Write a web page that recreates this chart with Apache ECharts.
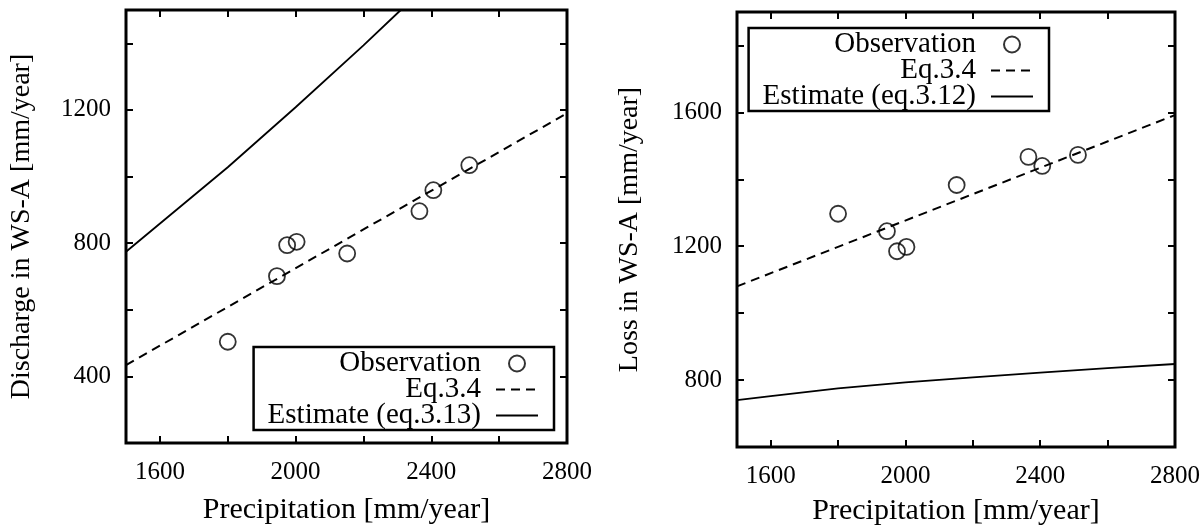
<!DOCTYPE html>
<html>
<head>
<meta charset="utf-8">
<script src="https://cdn.jsdelivr.net/npm/echarts@6/dist/echarts.min.js"></script>
<style>
html,body{margin:0;padding:0;background:#fff;}
#chart{width:1203px;height:531px;}
</style>
</head>
<body>
<div id="chart"></div>
<script>
// ---- data ----
const precipitation = [1800, 1945, 1975, 2003, 2152, 2365, 2406, 2512];
const discharge = [504, 701, 794, 804, 769, 896, 959, 1034];
const loss = [1297, 1245, 1185, 1198, 1383, 1467, 1440, 1473];

const eqP = [1500, 2800];
const dischargeEq = [434, 1190];
const lossEq = [1080, 1592];

const dischargeEstP = [1500, 1800, 2000, 2200, 2310];
const dischargeEst = [774, 1028, 1208, 1394, 1500];
const lossEstP = [1500, 1600, 1800, 2000, 2200, 2400, 2600, 2800];
const lossEst = [740, 752, 775, 793, 808, 822, 836, 848];

const xTicks = [1600, 1800, 2000, 2200, 2400, 2600, 2800];
const xLabels = [1600, 2000, 2400, 2800];
const dischargeTicks = [400, 600, 800, 1000, 1200, 1400];
const dischargeLabels = [400, 800, 1200];
const lossTicks = [800, 1000, 1200, 1400, 1600, 1800];
const lossLabels = [800, 1200, 1600];

const xTitle = 'Precipitation [mm/year]';
const yTitleLeft = 'Discharge in WS-A [mm/year]';
const yTitleRight = 'Loss in WS-A [mm/year]';
const names = {
  obs: 'Observation',
  eq: 'Eq.3.4',
  estL: 'Estimate (eq.3.13)',
  estR: 'Estimate (eq.3.12)'
};

// ---- helpers ----
const zip = (a, b) => a.map((v, i) => [v, b[i]]);
const plain = v => String(v);
const tickFont = {fontFamily: 'Liberation Serif', fontSize: 25, color: '#000'};
const xNameFont = {fontFamily: 'Liberation Serif', fontSize: 30, color: '#000'};
const yNameFont = {fontFamily: 'Liberation Serif', fontSize: 28, color: '#000'};

function xAxes(grid, nameGap) {
  const base = {
    type: 'value', gridIndex: grid, min: 1500, max: 2800,
    splitLine: {show: false}, axisLine: {show: false}
  };
  return [
    Object.assign({}, base, {
      position: 'bottom',
      name: xTitle, nameLocation: 'middle', nameGap: nameGap, nameTextStyle: xNameFont,
      axisTick: {show: true, inside: true, length: 7, lineStyle: {color: '#000', width: 2}, customValues: xTicks},
      axisLabel: Object.assign({margin: 17, customValues: xLabels, formatter: plain}, tickFont)
    }),
    Object.assign({}, base, {
      position: 'top',
      axisTick: {show: true, inside: true, length: 7, lineStyle: {color: '#000', width: 2}, customValues: xTicks},
      axisLabel: {show: false}
    })
  ];
}
function yAxes(grid, min, max, ticks, labels, title, nameGap) {
  const base = {
    type: 'value', gridIndex: grid, min: min, max: max,
    splitLine: {show: false}, axisLine: {show: false}
  };
  return [
    Object.assign({}, base, {
      position: 'left',
      name: title, nameLocation: 'middle', nameGap: nameGap, nameTextStyle: yNameFont,
      axisTick: {show: true, inside: true, length: 7, lineStyle: {color: '#000', width: 2}, customValues: ticks},
      axisLabel: Object.assign({margin: 15, customValues: labels, formatter: plain}, tickFont)
    }),
    Object.assign({}, base, {
      position: 'right',
      axisTick: {show: true, inside: true, length: 7, lineStyle: {color: '#000', width: 2}, customValues: ticks},
      axisLabel: {show: false}
    })
  ];
}

const scatterStyle = {color: 'rgba(0,0,0,0)', borderColor: '#000', borderWidth: 1.8};
const lineItem = {color: 'rgba(0,0,0,0)', borderWidth: 0};
const dashStyle = {color: '#000', width: 2, type: [9, 6]};
const solidStyle = {color: '#000', width: 1.8, type: 'solid'};

function legendFor(items, right, top) {
  return {
    data: items, orient: 'vertical', align: 'right', right: right, top: top,
    itemWidth: 42, itemHeight: 16, itemGap: -3,
    padding: [2, 15, 0, 14],
    borderColor: '#000', borderWidth: 2.5, backgroundColor: '#fff',
    selectedMode: false,
    textStyle: {fontFamily: 'Liberation Serif', fontSize: 29, color: '#000', padding: [0, 10, 0, 0]},
    inactiveColor: '#000'
  };
}

const option = {
  animation: false,
  backgroundColor: '#fff',
  grid: [
    {left: 126, right: 636, top: 10, bottom: 88, show: true, borderColor: '#000', borderWidth: 3},
    {left: 737, right: 28, top: 12, bottom: 84, show: true, borderColor: '#000', borderWidth: 3}
  ],
  xAxis: [].concat(xAxes(0, 52), xAxes(1, 49)),
  yAxis: [].concat(
    yAxes(0, 200, 1500, dischargeTicks, dischargeLabels, yTitleLeft, 90),
    yAxes(1, 600, 1900, lossTicks, lossLabels, yTitleRight, 93)
  ),
  legend: [
    legendFor([names.obs, names.eq, names.estL], 649, 347),
    legendFor([names.obs, names.eq, names.estR], 154, 28)
  ],
  series: [
    {name: names.eq, type: 'line', xAxisIndex: 0, yAxisIndex: 0, data: zip(eqP, dischargeEq),
      symbol: 'none', lineStyle: dashStyle, itemStyle: lineItem, z: 2},
    {name: names.estL, type: 'line', xAxisIndex: 0, yAxisIndex: 0, data: zip(dischargeEstP, dischargeEst),
      symbol: 'none', lineStyle: solidStyle, itemStyle: lineItem, z: 2},
    {name: names.obs, type: 'scatter', xAxisIndex: 0, yAxisIndex: 0, data: zip(precipitation, discharge),
      symbol: 'circle', symbolSize: 16, itemStyle: scatterStyle, z: 3},
    {name: names.eq, type: 'line', xAxisIndex: 2, yAxisIndex: 2, data: zip(eqP, lossEq),
      symbol: 'none', lineStyle: dashStyle, itemStyle: lineItem, z: 2},
    {name: names.estR, type: 'line', xAxisIndex: 2, yAxisIndex: 2, data: zip(lossEstP, lossEst),
      symbol: 'none', lineStyle: solidStyle, itemStyle: lineItem, z: 2},
    {name: names.obs, type: 'scatter', xAxisIndex: 2, yAxisIndex: 2, data: zip(precipitation, loss),
      symbol: 'circle', symbolSize: 16, itemStyle: scatterStyle, z: 3}
  ]
};

const chart = echarts.init(document.getElementById('chart'), null, {renderer: 'canvas'});
chart.setOption(option);
</script>
</body>
</html>
